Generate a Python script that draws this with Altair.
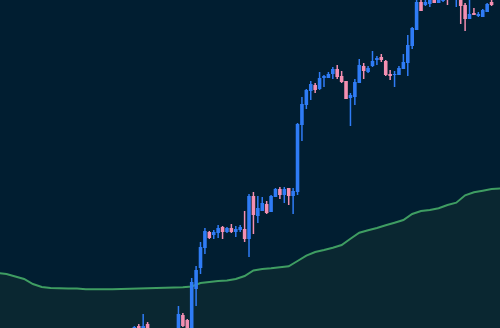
import altair as alt
import pandas as pd

# Candles: slot index, open, close, high, low (price units)
k_idx = [0, 1, 2, 3, 10, 11, 12, 13, 14, 15, 16, 17, 18, 19, 20, 21, 22, 23, 24, 25,
         26, 27, 28, 29, 30, 31, 32, 33, 34, 35, 36, 37, 38, 39, 40, 41, 42, 43, 44, 45,
         46, 47, 48, 49, 50, 51, 52, 53, 54, 55, 56, 57, 58, 59, 60, 61, 62, 63, 64, 65,
         66, 67, 68, 69, 70, 71, 73, 74, 75, 76, 77, 78, 79, 80, 81]
opens = [-5, 2, -7, 4, -7, 13, 8, -17, 39, 60, 80, 96, 93, 95, 101, 96, 100, 96, 98, 99,
         89, 132, 112, 117, 124, 116, 131, 139, 133, 140, 132, 136, 203, 223, 237, 243, 239, 250, 250, 254,
         259, 252, 247, 230, 231, 245, 262, 256, 262, 268, 271, 267, 254, 253, 253, 259, 265, 282, 298, 326,
         323, 324, 330, 325, 327, 332, 329, 330, 323, 309, 315, 312, 311, 316, 326]
closes = [1, -7, 2, -5, 14, 2, -7, 46, 58, 81, 97, 90, 96, 100, 96, 100, 96, 99, 101, 89,
          132, 113, 120, 125, 115, 132, 139, 133, 139, 132, 137, 204, 224, 238, 244, 238, 250, 252, 254, 259,
          251, 246, 229, 233, 246, 263, 257, 260, 267, 270, 268, 253, 252, 254, 260, 266, 283, 300, 326, 317,
          326, 328, 325, 329, 330, 329, 333, 322, 309, 314, 313, 314, 318, 324, 323]
highs = [2, 4, 14, 6, 22, 15, 9, 50, 62, 86, 100, 97, 98, 103, 102, 101, 104, 102, 103, 117,
         134, 136, 132, 131, 127, 133, 140, 141, 141, 140, 140, 205, 231, 239, 247, 245, 256, 253, 256, 261,
         263, 257, 247, 235, 249, 269, 265, 262, 277, 272, 274, 268, 258, 257, 262, 274, 293, 301, 328, 332,
         330, 331, 332, 331, 331, 333, 334, 333, 325, 330, 320, 316, 319, 325, 330]
lows = [-12, -10, -10, -8, -10, 1, -10, -22, 22, 54, 74, 89, 89, 90, 89, 95, 95, 91, 96, 86,
        71, 94, 105, 117, 114, 116, 131, 129, 125, 123, 114, 133, 187, 219, 228, 235, 238, 241, 250, 249,
        249, 245, 229, 202, 223, 245, 249, 255, 261, 263, 266, 252, 248, 241, 253, 259, 252, 279, 298, 317,
        322, 321, 325, 325, 326, 323, 321, 304, 297, 309, 313, 311, 311, 316, 322]

# Moving-average line: slot index and value
line_k = [-31, -29, -27, -25, -23, -21, -19, -17, -15, -13, -11, -9, -7, -5, -3, -1, 1, 3, 5, 7, 9,
          11, 13, 15, 17, 19, 21, 23, 25, 27, 29, 31, 33, 35, 37, 39, 41, 43, 45, 47, 49,
          51, 53, 55, 57, 59, 61, 63, 65, 67, 69, 71, 73, 75, 77, 79, 81, 83]
line_v = [55, 54, 51.5, 49, 44, 41, 40, 39.7, 39.5, 39.4, 38.7, 38.7, 38.7, 38.8, 39, 39.2, 39.5, 39.8, 40, 40.2, 40.5,
          40.7, 41.5, 45, 46, 47, 47.5, 49, 52, 57.5, 59, 59.7, 60.7, 61.7, 67, 72.3, 76, 78, 80.3, 83, 89.3,
          95.3, 97.7, 100, 102.7, 105.3, 108, 114, 117, 118, 119.7, 123, 125.3, 132.7, 135.7, 137.3, 139, 139.5]

BG = "#011e31"
FILL = "#0a2731"
GREEN = "#3f9d62"
UP = "#2f7cf6"
DOWN = "#f48fb1"

candles = pd.DataFrame({"k": k_idx, "open": opens, "close": closes, "high": highs, "low": lows})
candles["dir"] = ["up" if c >= o else "down" for o, c in zip(opens, closes)]
line_df = pd.DataFrame({"k": line_k, "v": line_v})

xs = alt.Scale(domain=[-29.333, 81.778], nice=False, zero=False)
ys = alt.Scale(domain=[0, 328], nice=False, zero=False)
col = alt.Color("dir:N", scale=alt.Scale(domain=["up", "down"], range=[UP, DOWN]), legend=None)

area = alt.Chart(line_df).mark_area(color=FILL, opacity=1, clip=True).encode(
    x=alt.X("k:Q", scale=xs, axis=None),
    y=alt.Y("v:Q", scale=ys, axis=None),
    y2=alt.datum(-10),
)
line = alt.Chart(line_df).mark_line(color=GREEN, strokeWidth=2, clip=True).encode(
    x=alt.X("k:Q", scale=xs, axis=None),
    y=alt.Y("v:Q", scale=ys, axis=None),
)
wicks = alt.Chart(candles).mark_rule(strokeWidth=1.5, clip=True).encode(
    x=alt.X("k:Q", scale=xs, axis=None),
    y=alt.Y("low:Q", scale=ys, axis=None),
    y2="high:Q",
    color=col,
)
bodies = alt.Chart(candles).mark_bar(size=3.6, clip=True).encode(
    x=alt.X("k:Q", scale=xs, axis=None),
    y=alt.Y("open:Q", scale=ys, axis=None),
    y2="close:Q",
    color=col,
)

chart = alt.layer(area, line, wicks, bodies).properties(
    width=500, height=328, padding=0, background=BG,
    autosize=alt.AutoSizeParams(type="none"),
).configure_view(stroke=None, fill=BG)

chart.save("out.html", embed_options={"renderer": "svg", "actions": False})
